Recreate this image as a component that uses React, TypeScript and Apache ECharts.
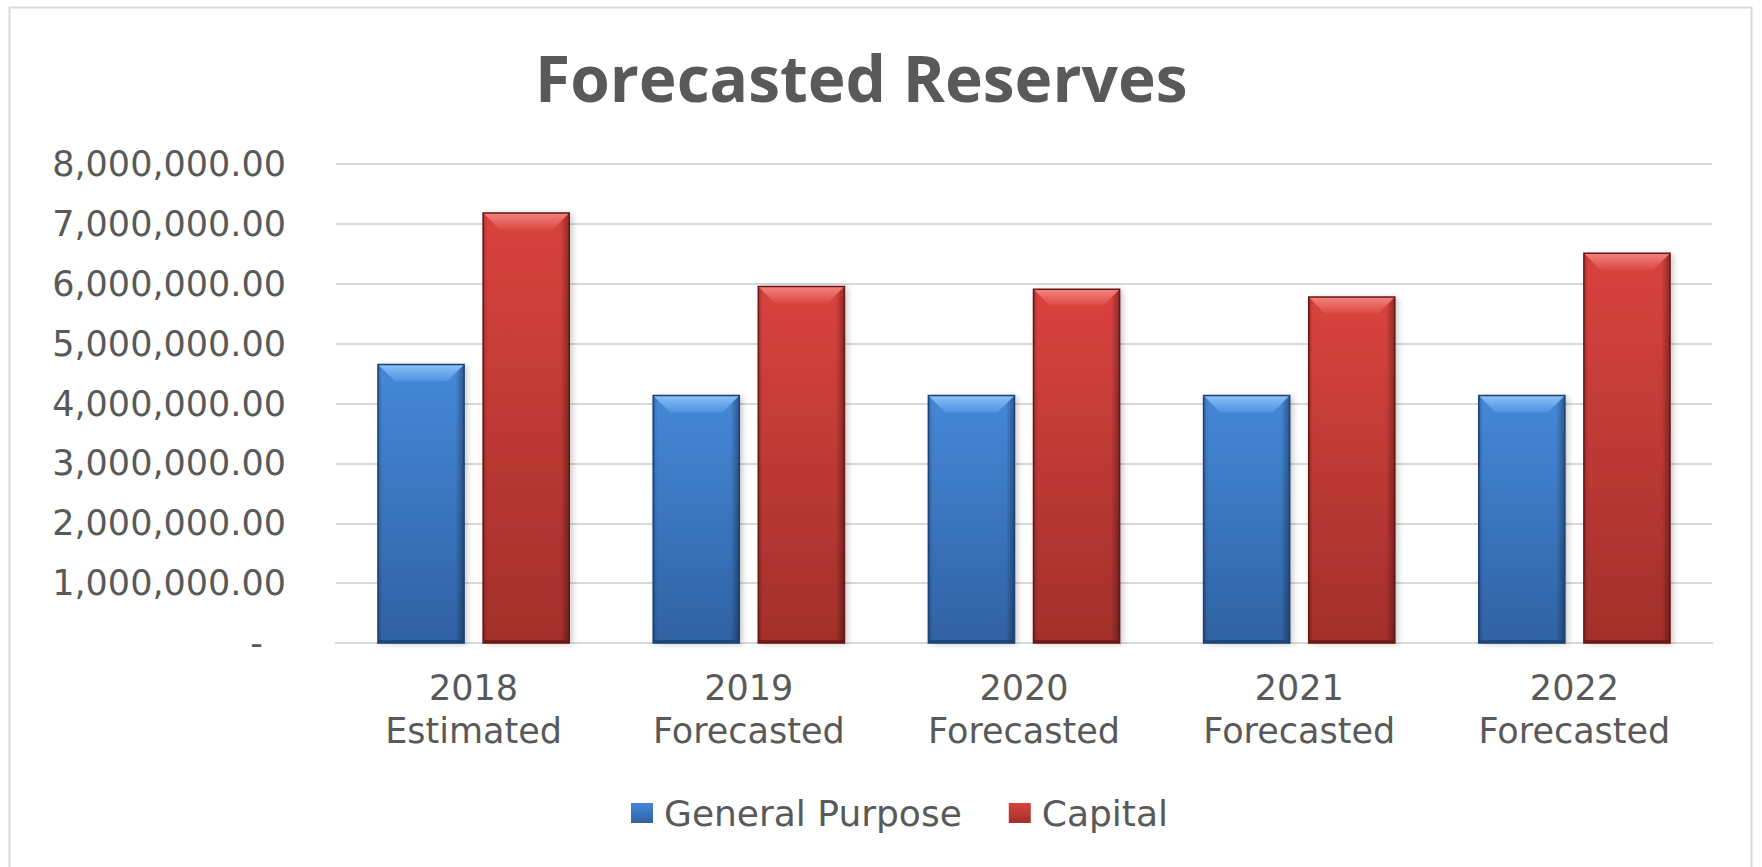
import React, { useEffect, useRef } from 'react';
import * as echarts from 'echarts';

// Reserve balances by year
const years = ['2018', '2019', '2020', '2021', '2022'];
const stages = ['Estimated', 'Forecasted', 'Forecasted', 'Forecasted', 'Forecasted'];
const seriesNames = ['General Purpose', 'Capital'];
const generalPurpose = [4650000, 4135000, 4135000, 4135000, 4135000];
const capital = [7180000, 5955000, 5910000, 5780000, 6510000];
const yMin = 0;
const yMax = 8000000;
const yStep = 1000000;

const TEXT = '#595959';
const GRID = '#d9d9d9';

type Palette = { top: string; bottom: string; edge: string; bevelTop: string; bevelBottom: string };
const palettes: Palette[] = [
  { top: '#4588d8', bottom: '#2f62a3', edge: '#1c4176', bevelTop: '#8cc2f5', bevelBottom: '#4c92e3' },
  { top: '#d9433e', bottom: '#a22f2b', edge: '#671614', bevelTop: '#f3847e', bevelBottom: '#db4842' },
];

const BAR_RATIO = 0.313; // bar width as a share of the category band
const GAP_RATIO = 0.069; // space between the two bars of a year

function money(v: number): string {
  const [i, d] = v.toFixed(2).split('.');
  return i.replace(/\B(?=(\d{3})+(?!\d))/g, ',') + '.' + d;
}

function vGrad(a: string, b: string) {
  return new echarts.graphic.LinearGradient(0, 0, 0, 1, [
    { offset: 0, color: a },
    { offset: 1, color: b },
  ]);
}

function bevelBar(seriesIdx: number) {
  const pal = palettes[seriesIdx];
  return (_params: any, api: any) => {
    const idx = api.value(0);
    const val = api.value(1);
    const top = api.coord([idx, val]);
    const base = api.coord([idx, 0]);
    const catW = api.size([1, 0])[0];
    const bw = catW * BAR_RATIO;
    const gap = catW * GAP_RATIO;
    const x0 = seriesIdx === 0 ? top[0] - gap / 2 - bw : top[0] + gap / 2;
    const y0 = top[1];
    const h = base[1] - y0;
    const bev = Math.min(17, h / 2, bw / 2);
    const rect = { x: x0, y: y0, width: bw, height: h };
    return {
      type: 'group',
      children: [
        {
          type: 'rect',
          shape: rect,
          style: {
            fill: vGrad(pal.top, pal.bottom),
            shadowColor: 'rgba(0,0,0,0.22)',
            shadowBlur: 6,
            shadowOffsetX: 3,
            shadowOffsetY: 1,
          },
        },
        {
          type: 'rect',
          shape: rect,
          style: {
            fill: new echarts.graphic.LinearGradient(0, 0, 1, 0, [
              { offset: 0, color: 'rgba(0,0,0,0.22)' },
              { offset: 0.05, color: 'rgba(0,0,0,0)' },
              { offset: 0.9, color: 'rgba(0,0,0,0)' },
              { offset: 1, color: 'rgba(0,0,0,0.35)' },
            ]),
          },
        },
        {
          type: 'polygon',
          shape: {
            points: [
              [x0, y0],
              [x0 + bw, y0],
              [x0 + bw - bev, y0 + bev],
              [x0 + bev, y0 + bev],
            ],
          },
          style: { fill: vGrad(pal.bevelTop, pal.bevelBottom) },
        },
        {
          type: 'rect',
          shape: { x: x0, y: base[1] - 3, width: bw, height: 3 },
          style: { fill: pal.edge, opacity: 0.8 },
        },
        {
          type: 'rect',
          shape: rect,
          style: { fill: 'none', stroke: pal.edge, lineWidth: 1.5 },
        },
      ],
    };
  };
}

export default function App() {
  const ref = useRef<HTMLDivElement>(null);

  useEffect(() => {
    if (!ref.current) return;
    const chart = echarts.init(ref.current, undefined, { renderer: 'svg' });
    const valueSets = [generalPurpose, capital];

    chart.setOption({
      animation: false,
      backgroundColor: '#ffffff',
      title: {
        text: 'Forecasted Reserves',
        left: 530,
        top: 40,
        textStyle: { fontFamily: 'Open Sans', fontWeight: 'bold', fontSize: 64, color: TEXT },
      },
      legend: {
        data: seriesNames,
        left: 626,
        top: 790,
        icon: 'rect',
        itemWidth: 22,
        itemHeight: 20,
        itemGap: 47,
        textStyle: { fontFamily: 'DejaVu Sans', fontSize: 36, color: TEXT, padding: [0, 0, 0, 6] },
      },
      grid: { left: 336, right: 50, top: 164, bottom: 224, containLabel: false },
      xAxis: {
        type: 'category',
        data: years.map((y, i) => y + '\n' + stages[i]),
        axisLine: { show: true, lineStyle: { color: GRID, width: 2 } },
        axisTick: { show: false },
        axisLabel: {
          margin: 23,
          fontFamily: 'DejaVu Sans',
          fontSize: 35,
          lineHeight: 43,
          color: TEXT,
        },
      },
      yAxis: {
        type: 'value',
        min: yMin,
        max: yMax,
        interval: yStep,
        axisLine: { show: false },
        axisTick: { show: false },
        splitLine: { lineStyle: { color: GRID, width: 2 } },
        axisLabel: {
          margin: 50,
          fontFamily: 'DejaVu Sans',
          fontSize: 35,
          color: TEXT,
          formatter: (v: number) => (v === 0 ? '{z|-}' : money(v)),
          rich: {
            z: { fontFamily: 'DejaVu Sans', fontSize: 35, color: TEXT, padding: [0, 23, 0, 0] },
          },
        },
      },
      graphic: [
        {
          type: 'rect',
          silent: true,
          z: -10,
          shape: { x: 9.5, y: 7.5, width: 1742, height: 900 },
          style: { fill: 'none', stroke: GRID, lineWidth: 2 },
        },
      ],
      series: valueSets.map((vals, s) => ({
        name: seriesNames[s],
        type: 'custom',
        renderItem: bevelBar(s),
        encode: { x: 0, y: 1 },
        itemStyle: { color: vGrad(palettes[s].top, palettes[s].bottom) },
        data: vals.map((v, i) => [i, v]),
      })),
    });

    return () => chart.dispose();
  }, []);

  return (
    <div
      ref={ref}
      style={{ position: 'fixed', left: 0, top: 0, width: 1762, height: 867, background: '#fff' }}
    />
  );
}
